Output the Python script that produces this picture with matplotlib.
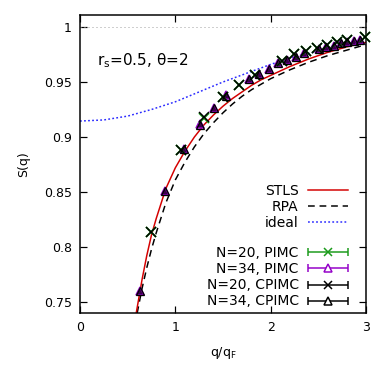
import numpy as np
import matplotlib
matplotlib.use("Agg")
import matplotlib.pyplot as plt
from matplotlib.legend_handler import HandlerErrorbar

plt.rcParams['font.family'] = ['DejaVu Sans']

# theory curves, S(q) vs q/qF
q_stls = [0.59, 0.65, 0.70, 0.75, 0.80, 0.90, 1.0, 1.1, 1.2, 1.3, 1.4, 1.5, 1.6, 1.7,
          1.8, 1.9, 2.0, 2.2, 2.4, 2.6, 2.8, 3.0]
s_stls = [0.740, 0.770, 0.792, 0.811, 0.826, 0.853, 0.872, 0.887, 0.900, 0.911, 0.920,
          0.928, 0.935, 0.941, 0.947, 0.952, 0.956, 0.964, 0.971, 0.977, 0.982, 0.986]
q_rpa = [0.60, 0.65, 0.70, 0.75, 0.80, 0.90, 1.0, 1.1, 1.2, 1.3, 1.4, 1.5, 1.6, 1.7,
         1.8, 1.9, 2.0, 2.2, 2.4, 2.6, 2.8, 3.0]
s_rpa = [0.740, 0.762, 0.781, 0.798, 0.813, 0.840, 0.861, 0.877, 0.891, 0.903, 0.913,
         0.922, 0.930, 0.937, 0.943, 0.948, 0.953, 0.961, 0.968, 0.974, 0.979, 0.984]
q_ideal = [0.0, 0.25, 0.5, 0.75, 1.0, 1.25, 1.5, 1.75, 2.0, 2.25, 2.5, 2.75, 3.0]
s_ideal = [0.9145, 0.9155, 0.919, 0.925, 0.932, 0.941, 0.950, 0.958, 0.966, 0.973,
           0.978, 0.982, 0.986]

# simulation data
q_n20 = [0.748, 1.058, 1.296, 1.496, 1.673, 1.832, 2.116, 2.244, 2.366, 2.481, 2.591,
         2.697, 2.799, 2.992]
s_n20_pimc = [0.814, 0.888, 0.917, 0.936, 0.947, 0.956, 0.969, 0.975, 0.978, 0.981,
              0.984, 0.986, 0.988, 0.991]
s_n20_cpimc = [0.814, 0.888, 0.918, 0.936, 0.947, 0.956, 0.969, 0.975, 0.978, 0.981,
               0.984, 0.986, 0.988, 0.991]
q_n34 = [0.627, 0.887, 1.086, 1.254, 1.402, 1.536, 1.774, 1.881, 1.983, 2.080, 2.172,
         2.261, 2.346, 2.508, 2.585, 2.660, 2.733, 2.804, 2.873, 2.941]
s_n34_pimc = [0.760, 0.851, 0.889, 0.9115, 0.926, 0.938, 0.953, 0.957, 0.962, 0.967,
              0.970, 0.973, 0.976, 0.980, 0.982, 0.983, 0.985, 0.986, 0.987, 0.988]
s_n34_cpimc = [0.760, 0.851, 0.889, 0.911, 0.926, 0.937, 0.953, 0.957, 0.962, 0.967,
               0.970, 0.973, 0.976, 0.980, 0.982, 0.983, 0.985, 0.986, 0.987, 0.988]

px = 72 / 100  # one pixel in points at dpi 100

fig = plt.figure(figsize=(3.9, 3.79), dpi=100)
ax = fig.add_axes([80 / 390, 1 - 313 / 379, 286 / 390, 298 / 379])

green = '#1a9a1a'
purple = '#9400c8'

ax.axhline(1.0, color='#a0a0a0', lw=1 * px, dashes=(1, 3))

l_ideal, = ax.plot(q_ideal, s_ideal, color='#2a2aff', lw=1.5 * px, dashes=(1.2, 1.5))
l_rpa, = ax.plot(q_rpa, s_rpa, color='black', lw=1.5 * px, dashes=(4.5, 3.2))
l_stls, = ax.plot(q_stls, s_stls, color='#d40000', lw=1.5 * px)

mk = dict(linestyle='none', clip_on=False, zorder=5)
ax.plot(q_n34, s_n34_pimc, marker='^', ms=6, mfc='#3a0048', mec=purple, mew=1.5 * px, **mk)
ax.plot(q_n20, s_n20_pimc, marker='x', ms=7, mec=green, mew=1.9 * px, **mk)
ax.plot(q_n20, s_n20_cpimc, marker='x', ms=7, mec='black', mew=1.5 * px, **mk)
ax.plot(q_n34, s_n34_cpimc, marker='^', ms=6, mfc='none', mec='black', mew=1.3 * px, **mk)

ax.set_xlim(0, 3)
ax.set_ylim(0.74, 1.0109)
ax.set_xticks([0, 1, 2, 3])
ax.set_yticks([0.75, 0.8, 0.85, 0.9, 0.95, 1.0])
ax.set_yticklabels(['0.75', '0.8', '0.85', '0.9', '0.95', '1'])
ax.tick_params(direction='in', top=True, right=True, length=5, width=1.2 * px,
               labelsize=9, pad=6)
for sp in ax.spines.values():
    sp.set_linewidth(1.5 * px)

ax.set_xlabel('q/q$_\\mathregular{F}$', fontsize=9, labelpad=8)
ax.set_ylabel('S(q)', fontsize=9, labelpad=10)

ax.text(0.06, 0.848, 'r$_\\mathregular{s}$=0.5, θ=2', transform=ax.transAxes,
        fontsize=11, va='center', ha='left')


def right_align(leg):
    for col in leg._legend_handle_box.get_children():
        col.align = 'right'


leg1 = ax.legend([l_stls, l_rpa, l_ideal], ['STLS', 'RPA', 'ideal'],
                 loc='upper right', bbox_to_anchor=(0.937, 0.434), frameon=False,
                 markerfirst=False, fontsize=10, handlelength=2.9, handletextpad=0.65,
                 labelspacing=0.15, borderpad=0, borderaxespad=0)
right_align(leg1)
ax.add_artist(leg1)

# proxies for the error bar legend entries
proxies = []
for c, m, face in [(green, 'x', 'none'), (purple, '^', 'white'),
                   ('black', 'x', 'none'), ('black', '^', 'white')]:
    e = ax.errorbar([np.nan], [np.nan], xerr=[1], fmt=m, color=c, ms=6, mfc=face,
                    mew=1.5 * px, elinewidth=1.5 * px, capsize=3)
    proxies.append(e)

leg2 = ax.legend(proxies, ['N=20, PIMC', 'N=34, PIMC', 'N=20, CPIMC', 'N=34, CPIMC'],
                 loc='upper right', bbox_to_anchor=(0.937, 0.224), frameon=False,
                 markerfirst=False, fontsize=10, handlelength=2.9, handletextpad=0.65,
                 labelspacing=0.15, borderpad=0, borderaxespad=0,
                 handler_map={type(proxies[0]): HandlerErrorbar(xerr_size=1.45)})
right_align(leg2)

fig.savefig('out.png', dpi=100)
